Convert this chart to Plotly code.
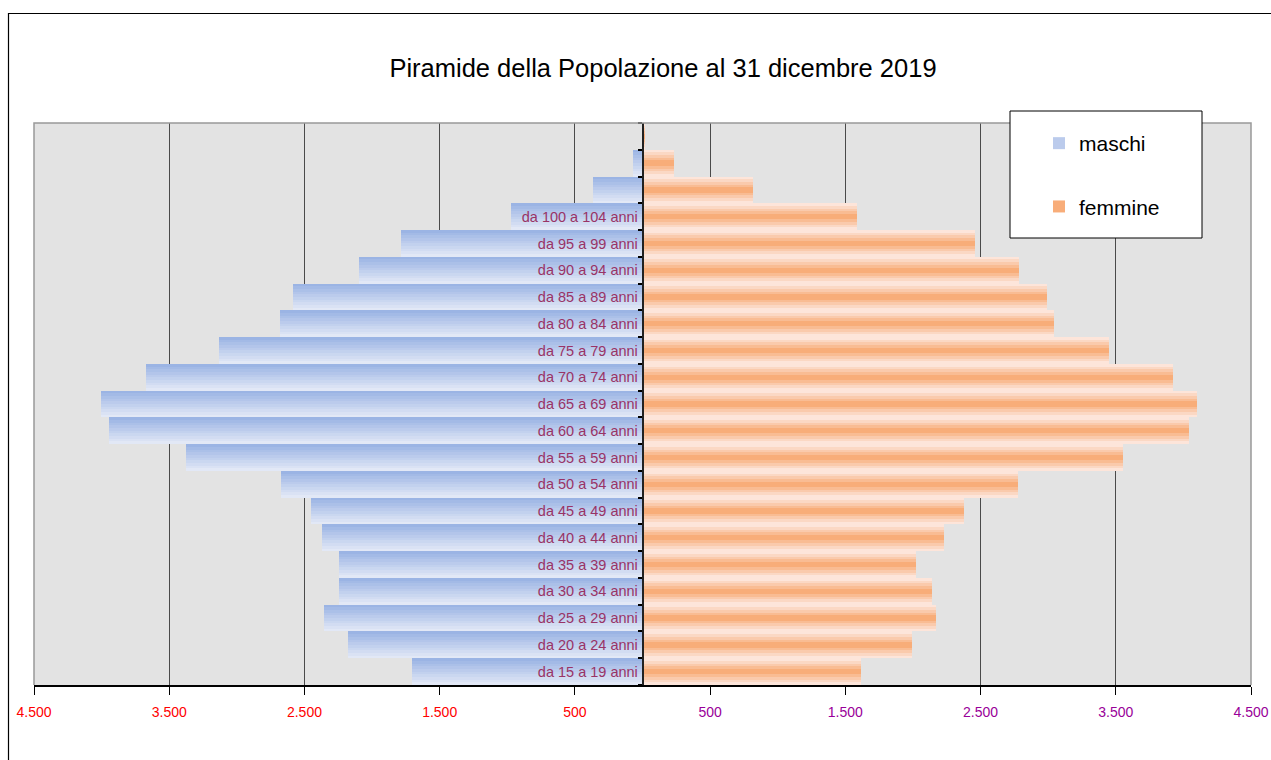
import plotly.graph_objects as go

# ---------------- data ----------------
eta = ["", "", "",
       "da 100 a 104 anni", "da 95 a 99 anni", "da 90 a 94 anni", "da 85 a 89 anni",
       "da 80 a 84 anni", "da 75 a 79 anni", "da 70 a 74 anni", "da 65 a 69 anni",
       "da 60 a 64 anni", "da 55 a 59 anni", "da 50 a 54 anni", "da 45 a 49 anni",
       "da 40 a 44 anni", "da 35 a 39 anni", "da 30 a 34 anni", "da 25 a 29 anni",
       "da 20 a 24 anni", "da 15 a 19 anni"]
maschi = [0, 70, 367, 974, 1789, 2093, 2587, 2678, 3130, 3670, 4004,
          3944, 3374, 2670, 2448, 2367, 2241, 2248, 2352, 2181, 1707]
femmine = [20, 233, 818, 1589, 2456, 2781, 2989, 3041, 3448, 3922, 4100,
           4041, 3552, 2774, 2374, 2233, 2019, 2144, 2167, 1996, 1619]
x_ticks = [-4500, -3500, -2500, -1500, -500, 500, 1500, 2500, 3500, 4500]
# --------------------------------------

FONT = "Liberation Sans, Arial, sans-serif"
ypos = list(range(len(eta)))
N = 10


def lerp(c1, c2, t):
    return "rgb(%d,%d,%d)" % tuple(round(a + (b - a) * t) for a, b in zip(c1, c2))


m_top, m_bot = (155, 180, 228), (226, 232, 246)
f_light, f_dark = (253, 234, 228), (247, 166, 108)

fig = go.Figure()
for k in range(N):
    t = k / (N - 1)
    fig.add_trace(go.Bar(
        y=ypos, x=[-v for v in maschi], orientation="h",
        width=1 / N, offset=-0.5 + k / N,
        marker=dict(color=lerp(m_top, m_bot, t), line=dict(width=0)),
        name="maschi", legendgroup="m", legendrank=1,
        showlegend=(k == 4), hoverinfo="skip"))
for k in range(N):
    t = 1 - abs((k + 0.5) / N - 0.5) * 2
    fig.add_trace(go.Bar(
        y=ypos, x=femmine, orientation="h",
        width=1 / N, offset=-0.5 + k / N,
        marker=dict(color=lerp(f_light, f_dark, t ** 1.1), line=dict(width=0)),
        name="femmine", legendgroup="f", legendrank=2,
        showlegend=(k == 4), hoverinfo="skip"))

tick_text = []
for v in x_ticks:
    s = f"{abs(v):,}".replace(",", ".")
    col = "#ff0000" if v < 0 else "#990099"
    tick_text.append(f'<span style="color:{col}">{s}</span>')

L, R, T, B = 34, 20, 123, 75
W, H = 1271, 760
pw, ph = W - L - R, H - T - B


def px(xp):
    return (xp - L) / pw


def py(yp):
    return (H - B - yp) / ph


fig.update_layout(
    width=W, height=H,
    margin=dict(l=L, r=R, t=T, b=B, pad=0, autoexpand=False),
    paper_bgcolor="white", plot_bgcolor="#e3e3e3",
    barmode="overlay", bargap=0,
    font=dict(family=FONT),
    title=dict(text="Piramide della Popolazione al 31 dicembre 2019",
               x=663 / W, xanchor="center", y=1 - 68 / H, yanchor="middle",
               font=dict(size=25.5, color="black", family=FONT)),
    xaxis=dict(range=[-4500, 4500], tickmode="array", tickvals=x_ticks,
               ticktext=tick_text, tickfont=dict(size=14, family=FONT),
               showgrid=True, gridcolor="#4a4a4a", gridwidth=1,
               zeroline=False, showline=True, linecolor="black", linewidth=1.5,
               ticks="outside", ticklen=8, tickcolor="black", tickwidth=1,
               ticklabelstandoff=5, automargin=False, fixedrange=True),
    yaxis=dict(range=[len(eta) - 0.5, -0.5], tickmode="array", tickvals=ypos,
               ticktext=eta, tickfont=dict(size=14.5, color="#993366", family=FONT),
               anchor="free", position=0.5, showline=True, linecolor="#222",
               linewidth=1.5, showgrid=False, zeroline=False, ticks="",
               ticklabelstandoff=1, automargin=False,
               minor=dict(tickmode="linear", tick0=-0.5, dtick=1, ticks="outside",
                          ticklen=4, tickcolor="black", tickwidth=1.5, showgrid=False),
               fixedrange=True),
    legend=dict(x=px(1039), y=py(123), xanchor="left", yanchor="top",
                bgcolor="rgba(0,0,0,0)", borderwidth=0,
                font=dict(size=21, color="black", family=FONT),
                tracegroupgap=33, traceorder="grouped", itemclick=False),
    showlegend=True,
    shapes=[
        # plot-area border (left, top, right)
        dict(type="path", xref="paper", yref="paper",
             path="M 0,0 L 0,1 L 1,1 L 1,0", line=dict(color="#999999", width=1.5),
             layer="above"),
        # legend box
        dict(type="rect", xref="paper", yref="paper",
             x0=px(1010), x1=px(1202), y0=py(238), y1=py(111),
             fillcolor="white", line=dict(color="black", width=1), layer="above"),
        # outer chart border
        dict(type="rect", xref="paper", yref="paper",
             x0=px(8.5), x1=px(1300), y0=py(800), y1=py(13.5),
             line=dict(color="black", width=1.2), layer="above"),
    ],
)

fig.write_html(
    "out.html",
    config={"displayModeBar": False},
    post_script="document.body.style.margin='0px';document.body.style.overflow='hidden';",
)
